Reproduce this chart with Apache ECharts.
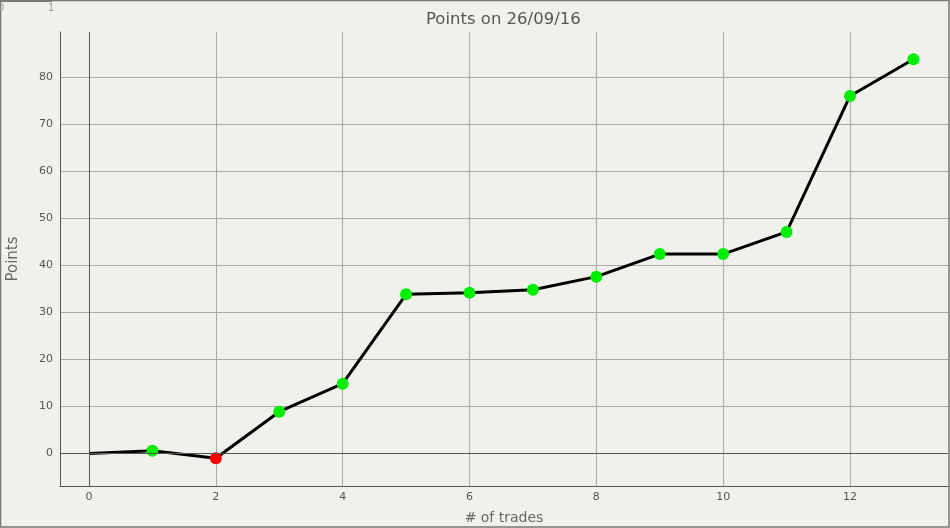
<!DOCTYPE html>
<html><head><meta charset="utf-8">
<script src="https://cdn.jsdelivr.net/npm/echarts@6/dist/echarts.min.js"></script>
<style>html,body{margin:0;padding:0;background:#f1f1ec;}#c{width:950px;height:528px;}</style>
</head><body><div id="c"></div>
<script>
const trades = [0,1,2,3,4,5,6,7,8,9,10,11,12,13];
const points = [0,0.6,-1.0,8.9,14.85,33.85,34.2,34.8,37.6,42.4,42.4,47.1,76.0,83.8];
const xTicks = [0,2,4,6,8,10,12];
const yTicks = [0,10,20,30,40,50,60,70,80];
const titleText = 'Points on 26/09/16';
const xName = '# of trades';
const yName = 'Points';

const chart = echarts.init(document.getElementById('c'), null, {renderer:'canvas'});
const fontFam = 'DejaVu Sans';
const lineData = trades.map((t,i)=>[t,points[i]]);
const markers = trades.slice(1).map((t,i)=>({value:[t,points[i+1]], itemStyle:{color: points[i+1] >= points[i] ? '#00ee00' : '#ff0000', opacity:1}}));
chart.setOption({
  backgroundColor:'#f1f1ec',
  animation:false,
  title:{text:titleText, left:421, top:6, textStyle:{fontFamily:fontFam, fontSize:16.5, fontWeight:'normal', color:'#555'}},
  grid:{left:60, right:2, top:32, bottom:42, outerBoundsMode:'none', containLabel:false},
  xAxis:{type:'value', min:-0.457, max:13.545, name:xName, nameLocation:'middle', nameGap:25,
    nameTextStyle:{fontFamily:fontFam, fontSize:14, color:'#666'},
    axisLine:{show:true, onZero:false, lineStyle:{color:'#555'}},
    axisTick:{show:false, customValues:xTicks},
    axisLabel:{customValues:xTicks, fontFamily:fontFam, fontSize:11, color:'#555', margin:6},
    splitLine:{show:true, lineStyle:{color:'#aaa'}}},
  yAxis:{type:'value', min:-6.9, max:89.6, name:yName, nameLocation:'middle', nameGap:39,
    nameTextStyle:{fontFamily:fontFam, fontSize:15, color:'#666'},
    axisLine:{show:true, onZero:false, lineStyle:{color:'#555'}},
    axisTick:{show:false, customValues:yTicks},
    axisLabel:{customValues:yTicks, fontFamily:fontFam, fontSize:11, color:'#555', margin:7},
    splitLine:{show:true, lineStyle:{color:'#aaa'}}},
  graphic:[
    {type:'rect', shape:{x:0.5,y:0.5,width:948.5,height:526.5}, style:{fill:null, stroke:'#777', lineWidth:1.5}, silent:true},
    {type:'rect', shape:{x:0,y:0,width:52,height:2}, style:{fill:'#777'}, silent:true},
    {type:'text', left:-2, top:3, style:{text:'0', fontFamily:fontFam, fontSize:10, fill:'#999'}},
    {type:'text', left:48, top:3, style:{text:'1', fontFamily:fontFam, fontSize:10, fill:'#999'}}
  ],
  series:[
    {type:'line', data:lineData, showSymbol:false, lineStyle:{color:'#000', width:3}, z:3,
      markLine:{silent:true, symbol:'none', label:{show:false}, lineStyle:{color:'#555', width:1, type:'solid'},
        data:[{xAxis:0},{yAxis:0}]}},
    {type:'scatter', data:markers, symbolSize:12, z:4}
  ]
});
</script></body></html>
